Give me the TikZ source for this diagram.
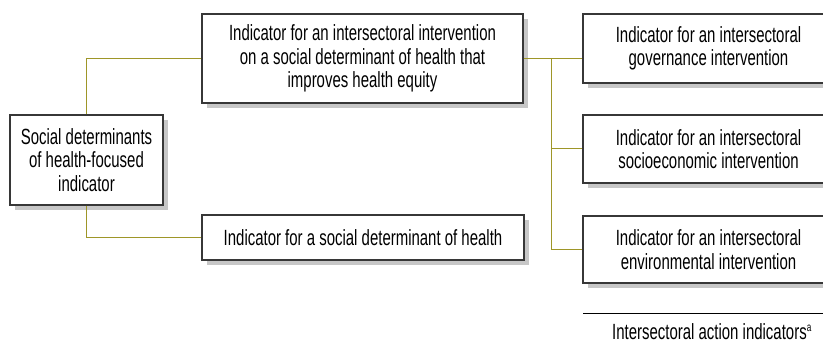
\documentclass[tikz,border=0pt]{standalone}
\usepackage{fontspec}
\setmainfont{Liberation Sans}[FakeStretch=0.68]
\usetikzlibrary{shadows}
\definecolor{linkolive}{RGB}{158,150,40}
\definecolor{boxline}{RGB}{55,55,55}
\tikzset{indbox/.style={draw=boxline, line width=1.3pt, fill=white, align=center, inner sep=0pt,
    drop shadow={shadow xshift=5pt, shadow yshift=-5pt, fill=black!22, opacity=1},
    font=\fontsize{22}{23.5}\selectfont},
  link/.style={draw=linkolive, line width=1pt}}

\begin{document}
\begin{tikzpicture}[x=1pt,y=-1pt]
  \useasboundingbox (0,0) rectangle (823,342);
  \node[indbox, minimum width=153pt, minimum height=90pt] (sdh) at ( 86.5,160.0) {Social determinants\\of health-focused\\indicator};
  \node[indbox, minimum width=321pt, minimum height=89pt] (ise) at (362.5, 58.5) {Indicator for an intersectoral intervention\\on a social determinant of health that\\improves health equity};
  \node[indbox, minimum width=322pt, minimum height=45pt] (sd)  at (363.0,237.5) {Indicator for a social determinant of health};
  \node[indbox, minimum width=251pt, minimum height=69pt] (gov) at (708.5, 48.5) {Indicator for an intersectoral\\governance intervention};
  \node[indbox, minimum width=251pt, minimum height=68pt] (soc) at (708.5,149.0) {Indicator for an intersectoral\\socioeconomic intervention};
  \node[indbox, minimum width=251pt, minimum height=67pt] (env) at (708.5,249.5) {Indicator for an intersectoral\\environmental intervention};
  \coordinate (br) at (551,58.5);
  \draw[link] (sdh.north) |- (ise.west);
  \draw[link] (sdh.south) |- (sd.west);
  \draw[link] (ise.east) -- (ise.east -| gov.west);
  \draw[link] (br) |- (env.west);
  \draw[link] (br |- soc.west) -- (soc.west);
  % footer
  \draw[black, line width=1pt] (583,313) -- (840,313);
  \node[anchor=base, inner sep=0pt, font=\fontsize{22}{23.5}\selectfont] (foot) at (712,339) {Intersectoral action indicators\textsuperscript{\fontsize{12}{12}\selectfont a}};
\end{tikzpicture}
\end{document}
